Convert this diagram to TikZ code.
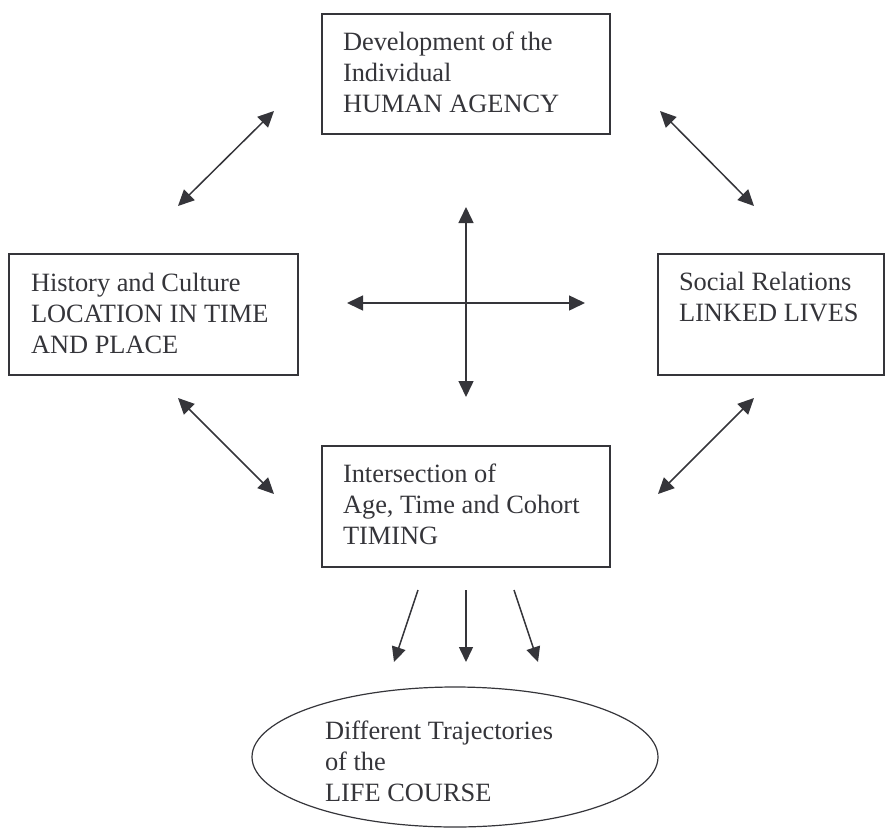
\documentclass[tikz,border=0pt]{standalone}
\usepackage{fontspec}
\setmainfont{Liberation Serif}
\usetikzlibrary{shapes.geometric,arrows.meta}
\definecolor{ink}{HTML}{35353A}
\newcommand\placetext[3]{\smash{\raisebox{#2}{\makebox[0pt][l]{\hspace*{-#1}\parbox[t]{400pt}{\raggedright #3}}}}}
\begin{document}
\begin{tikzpicture}[x=1pt,y=-1pt,
  box/.style={draw=ink, line width=1.2pt, rectangle, inner sep=0pt, text=ink},
  oval/.style={draw=ink, line width=1.2pt, ellipse, inner sep=0pt, text=ink},
  twoway/.style={draw=ink, line width=1.5pt, {Triangle[length=16pt,width=15pt]}-{Triangle[length=16pt,width=15pt]}},
  oneway/.style={draw=ink, line width=1.5pt, -{Triangle[length=15pt,width=14pt]}},
  every node/.style={font=\fontsize{26.4pt}{31pt}\selectfont}]
\useasboundingbox (0,0) rectangle (889,828);

\node[box, minimum width=288pt, minimum height=120pt] (agency) at (466,74)
  {\placetext{123pt}{24pt}{Development of the\\Individual\\HUMAN AGENCY}};
\node[box, minimum width=289pt, minimum height=121pt] (history) at (153.5,314.5)
  {\placetext{122.5pt}{23.5pt}{History and Culture\\LOCATION IN TIME\\AND PLACE}};
\node[box, minimum width=226pt, minimum height=121pt] (social) at (771,314.5)
  {\placetext{92pt}{24.5pt}{Social Relations\\LINKED LIVES}};
\node[box, minimum width=288pt, minimum height=121pt] (timing) at (466,506.5)
  {\placetext{123pt}{24.5pt}{Intersection of\\Age, Time and Cohort\\TIMING}};
\node[oval, minimum width=406pt, minimum height=140pt] (life) at (455,757)
  {\placetext{130pt}{18pt}{Different Trajectories\\of the\\LIFE COURSE}};

% diagonal two-way arrows
\coordinate (tl1) at (274,111); \coordinate (tl2) at (178,206);
\coordinate (tr1) at (660,111); \coordinate (tr2) at (754,206);
\coordinate (bl1) at (178,398); \coordinate (bl2) at (274,494);
\coordinate (br1) at (754,398); \coordinate (br2) at (658,494);
\draw[twoway] (tl1) -- (tl2);
\draw[twoway] (tr1) -- (tr2);
\draw[twoway] (bl1) -- (bl2);
\draw[twoway] (br1) -- (br2);

% central cross
\coordinate (cN) at (466,207); \coordinate (cS) at (466,397);
\coordinate (cW) at (347,303); \coordinate (cE) at (585,303);
\draw[twoway] (cN) -- (cS);
\draw[twoway] (cW) -- (cE);

% three arrows to the life course
\coordinate (s1) at (418,590); \coordinate (e1) at (394,662);
\coordinate (s2) at (466,590); \coordinate (e2) at (466,662);
\coordinate (s3) at (514,590); \coordinate (e3) at (538,662);
\draw[oneway] (s1) -- (e1);
\draw[oneway] (s2) -- (e2);
\draw[oneway] (s3) -- (e3);
\end{tikzpicture}
\end{document}
